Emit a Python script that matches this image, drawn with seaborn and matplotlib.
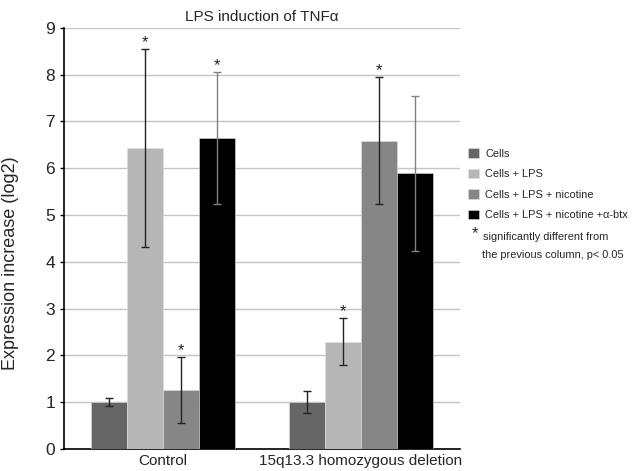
import pandas as pd
import matplotlib
matplotlib.use("Agg")
import matplotlib.pyplot as plt
import seaborn as sns

# Values
groups = ["Control", "15q13.3 homozygous deletion"]
conditions = ["Cells", "Cells + LPS", "Cells + LPS + nicotine", "Cells + LPS + nicotine +\u03b1-btx"]
control_vals = [1.0, 6.43, 1.26, 6.65]
control_err = [0.09, 2.12, 0.71, 1.41]
deletion_vals = [1.0, 2.29, 6.59, 5.89]
deletion_err = [0.23, 0.50, 1.35, 1.66]
control_sig = [False, True, True, True]
deletion_sig = [False, True, True, False]

colors = ["#666666", "#b6b6b6", "#868686", "#000000"]

rows = []
for g, vals in zip(groups, [control_vals, deletion_vals]):
    for c, v in zip(conditions, vals):
        rows.append({"group": g, "condition": c, "value": v})
df = pd.DataFrame(rows)

sns.set_style("white")
plt.rcParams["font.family"] = ["Liberation Sans", "DejaVu Sans"]

fig = plt.figure(figsize=(6.37, 4.71), dpi=100)
ax = fig.add_axes([0.1005, 0.047, 0.621, 0.894])

sns.barplot(data=df, x="group", y="value", hue="condition", hue_order=conditions,
            palette=colors, width=0.727, gap=0, errorbar=None, ax=ax,
            edgecolor="#e0e0e0", linewidth=0.4, zorder=3)

# error bars and significance stars placed on the bars seaborn drew
errs = [control_err, deletion_err]
sigs = [control_sig, deletion_sig]
bars = [p for p in ax.patches if p.get_height() > 0][:8]
for i, bar in enumerate(bars):
    ci = i // 2  # patches are ordered by hue, then group
    gi = i % 2
    x = bar.get_x() + bar.get_width() / 2
    y = bar.get_height()
    e = errs[gi][ci]
    col = "#808080" if ci == 3 else "#222222"
    ax.errorbar(x, y, yerr=e, fmt="none", ecolor=col, elinewidth=1,
                capsize=3, capthick=1, zorder=4)
    if sigs[gi][ci]:
        ax.text(x, y + e - 0.02, "*", ha="center", va="bottom", fontsize=12, zorder=5)

ax.set_ylim(0, 9)
ax.set_xlim(-0.5, 1.5)
ax.set_yticks(range(10))
ax.yaxis.grid(True, color="#c4c4c4", linewidth=1)
ax.set_axisbelow(True)
ax.tick_params(axis="y", length=3, width=1, labelsize=12.5, left=True, color="black")
ax.tick_params(axis="x", length=0, labelsize=11)
for s in ["top", "right"]:
    ax.spines[s].set_visible(False)
ax.spines["left"].set_color("black")
ax.spines["bottom"].set_color("black")
ax.spines["left"].set_linewidth(1.2)
ax.spines["bottom"].set_linewidth(1.2)
ax.set_xlabel("")
ax.set_ylabel("Expression increase (log2)", fontsize=13)
ax.yaxis.set_label_coords(-0.115, 0.44)
ax.set_title("LPS induction of TNF\u03b1", fontsize=11, pad=5)

ax.legend(loc="upper left", bbox_to_anchor=(1.01, 0.725), frameon=False, fontsize=7.9,
          handlelength=1.0, handleheight=1.0, handletextpad=0.6, labelspacing=0.9,
          borderaxespad=0)

fig.text(0.746, 0.505, "*", fontsize=12, ha="center", va="center")
fig.text(0.758, 0.497, "significantly different from", fontsize=7.9, va="center")
fig.text(0.756, 0.459, "the previous column, p< 0.05", fontsize=7.9, va="center")

fig.savefig("out.png", dpi=100)
